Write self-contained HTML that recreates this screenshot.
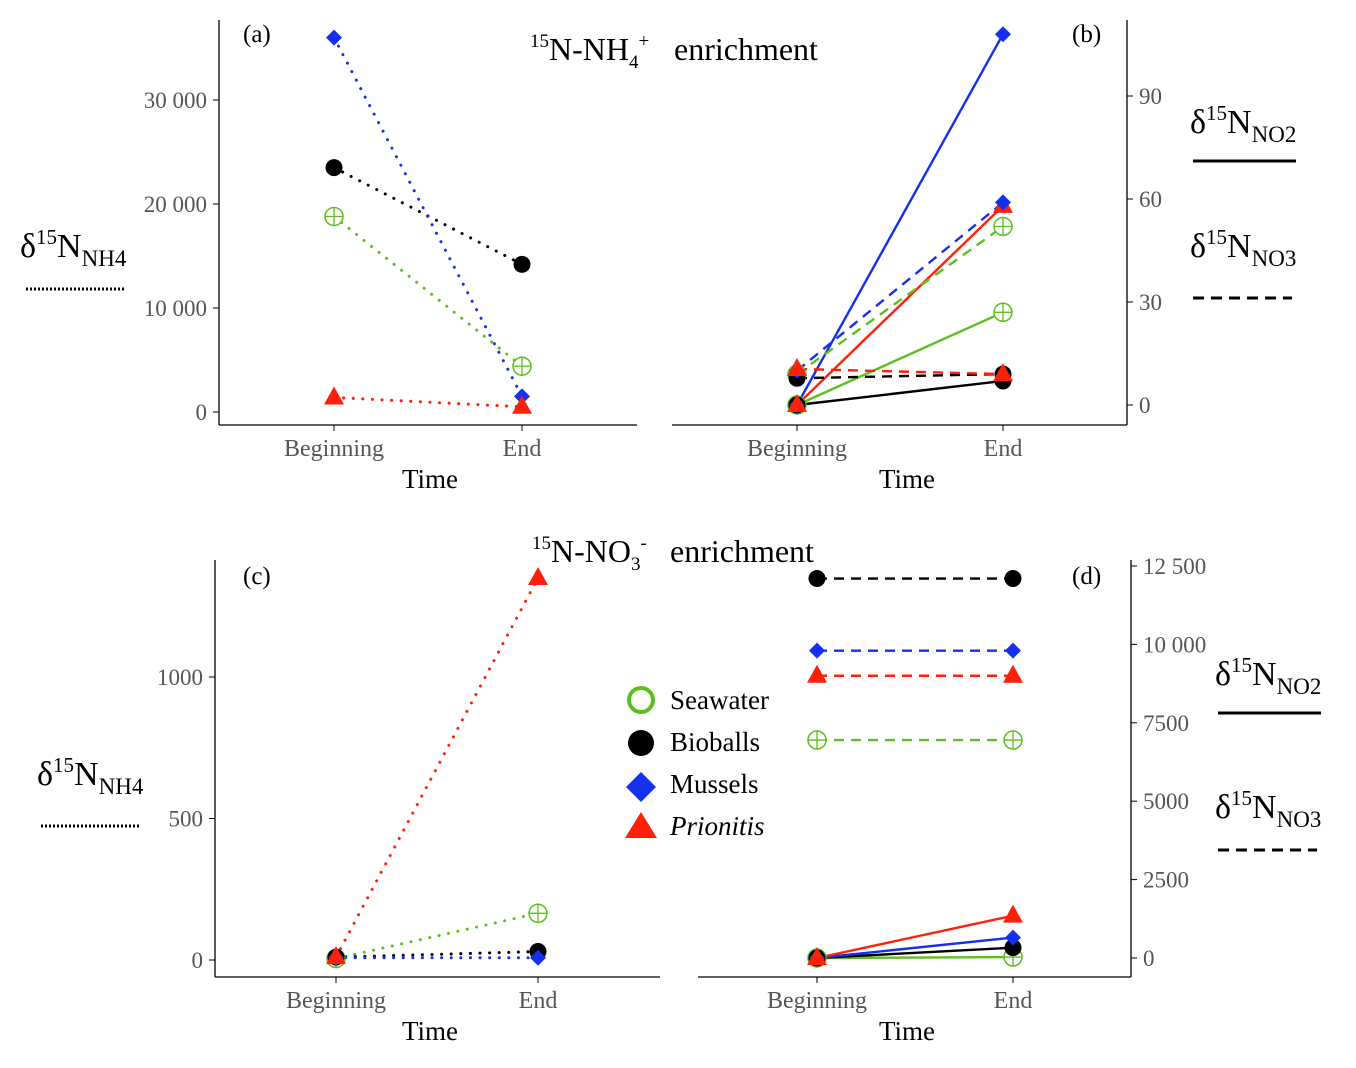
<!DOCTYPE html>
<html><head><meta charset="utf-8"><style>
body{margin:0;background:#fff}
svg{display:block;font-family:"Liberation Serif",serif}
.tick{fill:#555;font-size:23px}
.xtick{fill:#555;font-size:24px}
.lab{fill:#000;font-size:27px}
</style></head><body>
<svg id="c" width="1356" height="1068" viewBox="0 0 1356 1068" xmlns="http://www.w3.org/2000/svg">
<g>
<text x="530" y="60" font-size="32"><tspan font-size="19" dy="-13">15</tspan><tspan dy="13">N-NH</tspan><tspan font-size="19" dy="8">4</tspan><tspan font-size="19" dy="-21">+</tspan><tspan x="674" dy="13">enrichment</tspan></text>
<text x="532" y="562" font-size="32"><tspan font-size="19" dy="-13">15</tspan><tspan dy="13">N-NO</tspan><tspan font-size="19" dy="8">3</tspan><tspan font-size="19" dy="-21">-</tspan><tspan x="670" dy="13">enrichment</tspan></text>
</g>
<g>
<text x="20" y="257" font-size="34">δ<tspan font-size="21" dy="-13">15</tspan><tspan dy="13">N</tspan><tspan font-size="23" dy="9">NH4</tspan></text>
<line x1="26" y1="289" x2="124" y2="289" stroke="#000" stroke-width="3" stroke-dasharray="2,2"/>
<text x="1190" y="133" font-size="34">δ<tspan font-size="21" dy="-13">15</tspan><tspan dy="13">N</tspan><tspan font-size="23" dy="9">NO2</tspan></text>
<line x1="1193" y1="161" x2="1296" y2="161" stroke="#000" stroke-width="3"/>
<text x="1190" y="257" font-size="34">δ<tspan font-size="21" dy="-13">15</tspan><tspan dy="13">N</tspan><tspan font-size="23" dy="9">NO3</tspan></text>
<line x1="1193" y1="298" x2="1292" y2="298" stroke="#000" stroke-width="3" stroke-dasharray="11,7"/>
<text x="37" y="785" font-size="34">δ<tspan font-size="21" dy="-13">15</tspan><tspan dy="13">N</tspan><tspan font-size="23" dy="9">NH4</tspan></text>
<line x1="41" y1="826" x2="140" y2="826" stroke="#000" stroke-width="3" stroke-dasharray="2,2"/>
<text x="1215" y="685" font-size="34">δ<tspan font-size="21" dy="-13">15</tspan><tspan dy="13">N</tspan><tspan font-size="23" dy="9">NO2</tspan></text>
<line x1="1218" y1="713" x2="1321" y2="713" stroke="#000" stroke-width="3"/>
<text x="1215" y="818" font-size="34">δ<tspan font-size="21" dy="-13">15</tspan><tspan dy="13">N</tspan><tspan font-size="23" dy="9">NO3</tspan></text>
<line x1="1218" y1="850" x2="1317" y2="850" stroke="#000" stroke-width="3" stroke-dasharray="11,7"/>
</g>
<g>
<circle cx="641" cy="700" r="12" fill="#fff" stroke="#5cbf1c" stroke-width="4"/>
<text x="670" y="709" font-size="27">Seawater</text>
<circle cx="641" cy="743" r="13" fill="#000"/>
<text x="670" y="751" font-size="27">Bioballs</text>
<path d="M641 772 L656 787 L641 802 L626 787Z" fill="#1430ee"/>
<text x="670" y="793" font-size="27">Mussels</text>
<path d="M641 812 L657 838 L625 838Z" fill="#ff200a"/>
<text x="670" y="835" font-size="27" font-style="italic">Prionitis</text>
</g>
</svg>
<script>
const categories = ["Beginning","End"];
const groups = ["Seawater","Bioballs","Mussels","Prionitis"];
// Panel a: NH4 (dotted)
const aNH4 = [[18800,4400],[23500,14200],[36000,1500],[1400,500]];
// Panel b: NO2 (solid), NO3 (dashed)
const bNO2 = [[0,27],[0,7],[0,108],[0,58]];
const bNO3 = [[9,52],[7.8,9],[10,59],[10.5,9]];
// Panel c: NH4 (dotted)
const cNH4 = [[5,165],[10,30],[8,8],[10,1350]];
// Panel d: NO2 (solid), NO3 (dashed)
const dNO2 = [[0,30],[0,330],[0,650],[0,1350]];
const dNO3 = [[6950,6950],[12100,12100],[9800,9800],[9000,9000]];
const aTicks = [0,10000,20000,30000];
const aTickLabels = ["0","10 000","20 000","30 000"];
const bTicks = [0,30,60,90];
const bTickLabels = ["0","30","60","90"];
const cTicks = [0,500,1000];
const cTickLabels = ["0","500","1000"];
const dTicks = [0,2500,5000,7500,10000,12500];
const dTickLabels = ["0","2500","5000","7500","10 000","12 500"];

const svg = document.getElementById('c');
const NS = "http://www.w3.org/2000/svg";
const colors = ["#5cbf1c","#000000","#1430ee","#ff200a"];
function mk(tag, attrs, parent){const e=document.createElementNS(NS,tag);for(const k in attrs)e.setAttribute(k,attrs[k]);(parent||svg).appendChild(e);return e;}

function panel(p){
  const g = mk('g',{});
  
  
  const ys = v => p.y0 + v * (p.y1 - p.y0) / p.v1;
  const xs = i => p.xc[i];
  const ax = mk('line',{x1:p.ax0,y1:p.axY,x2:p.ax1,y2:p.axY,stroke:'#000','stroke-width':1.3},g);
  
  
  const ay = mk('line',{x1:p.yAxX,y1:p.yTop,x2:p.yAxX,y2:p.axY,stroke:'#000','stroke-width':1.3},g);
  
  
  categories.forEach((c,i)=>{
    mk('line',{x1:xs(i),y1:p.axY,x2:xs(i),y2:p.axY+6,stroke:'#000'},g);
    const t = mk('text',{x:xs(i),y:p.axY+31,'text-anchor':'middle',class:'xtick'},g);
    t.textContent = c;
    
    
  });
  const tt = mk('text',{x:p.tx,y:p.axY+63,'text-anchor':'middle',class:'lab'},g);
  tt.textContent = 'Time';
  
  
  p.ticks.forEach((v,i)=>{
    const y = ys(v);
    const dir = p.right ? 1 : -1;
    mk('line',{x1:p.yAxX,y1:y,x2:p.yAxX+6*dir,y2:y,stroke:'#000'},g);
    const t = mk('text',{x:p.yAxX+12*dir,y:y+8,'text-anchor':p.right?'start':'end',class:'tick'},g);
    t.textContent = p.tickLabels[i];
    
    
  });
  const pl = mk('text',{x:p.lx,y:p.ly,'font-size':25},g);
  pl.textContent = '('+p.id+')';
  
  
  p.series.forEach(s=>{
    s.data.forEach((vals,gi)=>{
      const dot = s.dash==='dot';
      const ln = mk('line',{x1:xs(0),y1:ys(vals[0]),x2:xs(1),y2:ys(vals[1]),stroke:colors[gi],'stroke-width':dot?3:2.4,'stroke-dasharray':dot?'0.1,9.5':(s.dash==='dash'?'10,7':'none'),'stroke-linecap':dot?'round':'butt'},g);
      
      
    });
  });
  p.series.forEach(s=>{
    s.data.forEach((vals,gi)=>{
      vals.forEach((v,i)=>{
        const m = marker(g, xs(i), ys(v), gi);
        
        
      });
    });
  });
}
function marker(g,x,y,gi){
  const c = colors[gi];
  if(gi===0){
    const m = mk('g',{},g);
    mk('circle',{cx:x,cy:y,r:9,fill:'#fff',stroke:c,'stroke-width':1.5},m);
    mk('line',{x1:x-9,y1:y,x2:x+9,y2:y,stroke:c,'stroke-width':1.3},m);
    mk('line',{x1:x,y1:y-9,x2:x,y2:y+9,stroke:c,'stroke-width':1.3},m);
    return m;
  }
  if(gi===1) return mk('circle',{cx:x,cy:y,r:8.5,fill:c},g);
  if(gi===2) return mk('path',{d:`M${x} ${y-8}L${x+8} ${y}L${x} ${y+8}L${x-8} ${y}Z`,fill:c},g);
  return mk('path',{d:`M${x} ${y-11}L${x+10} ${y+7}L${x-10} ${y+7}Z`,fill:c},g);
}
panel({id:'a',xc:[334,522],y0:412,y1:100,v1:30000,axY:425,ax0:219,ax1:637,yAxX:219,yTop:20,right:false,ticks:aTicks,tickLabels:aTickLabels,lx:243,ly:42,tx:430,series:[{name:'nh4',dash:'dot',data:aNH4}]});
panel({id:'b',xc:[797,1003],y0:405,y1:96,v1:90,axY:425,ax0:672,ax1:1127,yAxX:1127,yTop:20,right:true,ticks:bTicks,tickLabels:bTickLabels,lx:1072,ly:42,tx:907,series:[{name:'no2',dash:'solid',data:bNO2},{name:'no3',dash:'dash',data:bNO3}]});
panel({id:'c',xc:[336,538],y0:960,y1:677,v1:1000,axY:977,ax0:215,ax1:660,yAxX:215,yTop:560,right:false,ticks:cTicks,tickLabels:cTickLabels,lx:243,ly:584,tx:430,series:[{name:'nh4',dash:'dot',data:cNH4}]});
panel({id:'d',xc:[817,1013],y0:958,y1:566,v1:12500,axY:977,ax0:698,ax1:1131,yAxX:1131,yTop:560,right:true,ticks:dTicks,tickLabels:dTickLabels,lx:1072,ly:584,tx:907,series:[{name:'no2',dash:'solid',data:dNO2},{name:'no3',dash:'dash',data:dNO3}]});
</script>
</body></html>
